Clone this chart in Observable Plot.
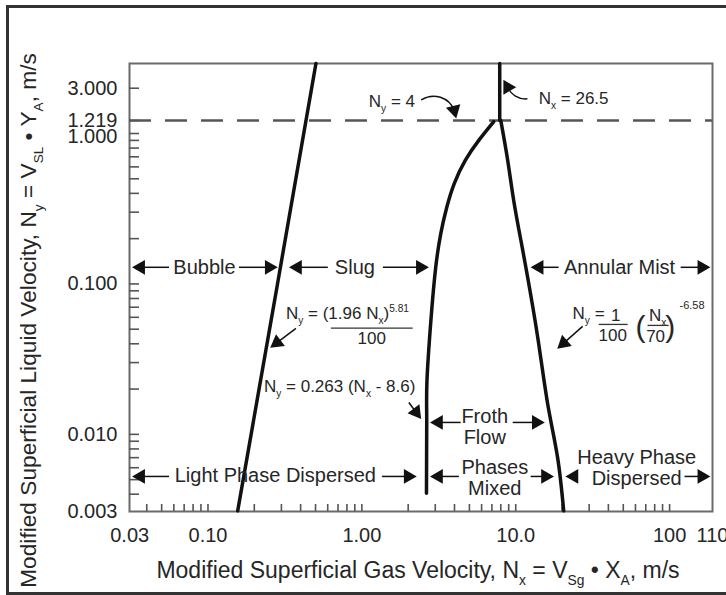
<!DOCTYPE html>
<html>
<head>
<meta charset="utf-8">
<script src="https://cdn.jsdelivr.net/npm/d3@7"></script>
<script src="https://cdn.jsdelivr.net/npm/@observablehq/plot@0.6"></script>
<style>
html, body { margin: 0; padding: 0; background: #fff; overflow: hidden; }
#wrap { position: relative; width: 726px; height: 595px; }
#wrap svg { display: block; position: absolute; left: 0; top: 0; }
#border { position: absolute; left: 6px; top: 5px; width: 740px; height: 584px;
  border-top: 3px solid #333; border-left: 3px solid #333; border-bottom: 3px solid #333; pointer-events: none; }
</style>
</head>
<body>
<div id="wrap"><div id="border"></div></div>
<script>
// ---------- Axes ----------
const xDomain = [0.0309, 190];
const yDomain = [0.00307, 2.92];
const xTickValues = [0.031, 0.1, 1, 10, 100, 190];
const xTickLabels = ["0.03", "0.10", "1.00", "10.0", "100", "110"];
const yTickValues = [0.00308, 0.01, 0.1, 1.219, 2];
const yTickLabels = ["0.003", "0.010", "0.100", "1.219", "3.000"];
const yUnitTick = [1];
const yUnitLabel = "1.000";
const xMinorTicks = [0.04, 0.05, 0.06, 0.07, 0.08, 0.09,
  0.1, 0.2, 0.3, 0.4, 0.5, 0.6, 0.7, 0.8, 0.9,
  1, 2, 3, 4, 5, 6, 7, 8, 9,
  10, 20, 30, 40, 50, 60, 70, 80, 90, 100];
const yMinorTicks = [0.004, 0.005, 0.006, 0.007, 0.008, 0.009,
  0.01, 0.02, 0.03, 0.04, 0.05, 0.06, 0.07, 0.08, 0.09,
  0.1, 0.2, 0.3, 0.4, 0.5, 0.6, 0.7, 0.8, 0.9,
  1, 1.219, 2];
const xTitle = "Modified Superficial Gas Velocity, N_{x} = V_{Sg} \u2022 X_{A}, m/s";
const yTitle = "Modified Superficial Liquid Velocity, N_{y} = V_{SL} \u2022 Y_{A}, m/s";

// ---------- Flow-regime boundaries ----------
const bubbleSlugX = [0.156, 0.283, 0.503];
const bubbleSlugY = [0.0031, 0.1, 2.92];
const slugFrothX = [2.63, 2.64, 2.65, 2.81, 3.02, 3.26, 3.56, 3.99, 4.70, 5.75, 7.2];
const slugFrothY = [0.00406, 0.0124, 0.0229, 0.0572, 0.129, 0.217, 0.322, 0.466, 0.662, 0.90, 1.2];
const frothMistX = [20.5, 18.7, 16.1, 13.9, 11.8, 10.8, 9.70, 8.87, 8.0];
const frothMistY = [0.0031, 0.00703, 0.0161, 0.0441, 0.119, 0.195, 0.359, 0.662, 1.219];
const nxLimitX = [7.87, 7.87];
const nxLimitY = [1.219, 2.92];
const nyLimit = [1.219];

// ---------- Region labels ----------
const regionNames = ["Bubble", "Slug", "Annular Mist", "Froth\nFlow", "Light Phase Dispersed", "Phases\nMixed", "Heavy Phase\nDispersed"];
const regionX = [0.0949, 0.901, 47.3, 6.29, 0.274, 7.31, 61.1];
const regionY = [0.129, 0.129, 0.129, 0.0113, 0.00534, 0.00514, 0.00599];

// ---------- Region range arrows (tail x -> head x on a row) ----------
const arrowTailX = [0.0558, 0.159, 0.601, 1.37, 19.0, 118, 4.39, 9.56, 0.0558, 1.35, 4.27, 12.5, 125];
const arrowHeadX = [0.0365, 0.25, 0.382, 2.40, 14.2, 162, 3.15, 13.6, 0.0365, 2.0, 3.15, 15.6, 162];
const arrowRowY = [0.129, 0.129, 0.129, 0.129, 0.129, 0.129, 0.012, 0.012, 0.00525, 0.00525, 0.00525, 0.00525, 0.00525];
const loneHeadX = [23.9];
const loneHeadY = [0.00525];

// ---------- Pointer arrows to the equations ----------
const pointerX1 = [0.373, 2.02, 27.2];
const pointerY1 = [0.0506, 0.0163, 0.0522];
const pointerX2 = [0.281, 2.25, 20.5];
const pointerY2 = [0.0407, 0.01404, 0.0404];
const pointerAngle = [-127, 143, -131];
const curvedX1 = [2.45, 11.8];
const curvedY1 = [1.68, 1.70];
const curvedX2 = [3.98, 8.86];
const curvedY2 = [1.43, 2.03];
const curvedAngle = [166, -30];
const curvedBend = [50, 35];

// ---------- Equation texts ----------
const eqStartText = ["N_{y} = (1.96 N_{x})^{5.81}", "N_{y} = 0.263 (N_{x} - 8.6)", "N_{y} =", "N_{y} = 4", "N_{x} = 26.5"];
const eqStartX = [0.321, 0.231, 23.4, 1.11, 14.1];
const eqStartY = [0.0637, 0.0208, 0.0637, 1.63, 1.71];
const eqMidText = ["100", "1", "100", "N_{x}", "70"];
const eqMidX = [1.16, 44.6, 42.7, 83.6, 81.1];
const eqMidY = [0.0434, 0.0619, 0.0451, 0.0619, 0.0444];
const parenText = ["(", ")"];
const parenX = [64.8, 101];
const parenY = [0.0514, 0.0514];
const expText = ["-6.58"];
const expX = [116];
const expY = [0.0720];
const barX1 = [0.629, 34.6, 71.9];
const barX2 = [2.14, 53.4, 98.6];
const barY = [0.0508, 0.0538, 0.053];

// ---------- Build ----------
const line = (xs, ys) => xs.map((x, i) => ({x, y: ys[i]}));
const yLab = new Map(yTickValues.map((v, i) => [v, yTickLabels[i]]));
const xLabels = xTickValues.map((v, i) => ({v, t: xTickLabels[i]}));
const regions = regionNames.map((t, i) => ({t, x: regionX[i], y: regionY[i]}));
const segs = arrowTailX.map((x1, i) => ({x1, x2: arrowHeadX[i], y: arrowRowY[i]}));
const heads = [
  ...segs.map(s => ({x: s.x2, y: s.y, a: s.x2 < s.x1 ? -90 : 90})),
  ...loneHeadX.map((x, i) => ({x, y: loneHeadY[i], a: -90})),
  ...pointerX2.map((x, i) => ({x, y: pointerY2[i], a: pointerAngle[i]})),
  ...curvedX2.map((x, i) => ({x, y: curvedY2[i], a: curvedAngle[i]}))
];
const pointers = pointerX1.map((x1, i) => ({x1, y1: pointerY1[i], x2: pointerX2[i], y2: pointerY2[i]}));
const curved = curvedX1.map((x1, i) => ({x1, y1: curvedY1[i], x2: curvedX2[i], y2: curvedY2[i]}));
const eqStart = eqStartText.map((t, i) => ({t, x: eqStartX[i], y: eqStartY[i]}));
const eqMid = eqMidText.map((t, i) => ({t, x: eqMidX[i], y: eqMidY[i]}));
const parens = parenText.map((t, i) => ({t, x: parenX[i], y: parenY[i]}));
const exps = expText.map((t, i) => ({t, x: expX[i], y: expY[i]}));
const bars = barX1.map((x1, i) => ({x1, x2: barX2[i], y: barY[i]}));

const ink = "#111";
const textInk = "#262626";

const chart = Plot.plot({
  width: 726,
  height: 595,
  marginLeft: 129,
  marginRight: 14,
  marginTop: 63,
  marginBottom: 84,
  x: {type: "log", domain: xDomain},
  y: {type: "log", domain: yDomain},
  style: {fontFamily: "'Liberation Sans', Arial, Helvetica, sans-serif", fontSize: "20px", color: textInk, background: "transparent", overflow: "visible"},
  marks: [
    Plot.frame({stroke: "#6a6a6a", strokeWidth: 2}),
    Plot.axisX(xMinorTicks, {anchor: "bottom", tickSize: -7, tickFormat: () => "", stroke: "#555", strokeWidth: 1.6, label: null}),
    Plot.axisY(yMinorTicks, {anchor: "left", tickSize: -10, tickFormat: () => "", stroke: "#555", strokeWidth: 1.6, label: null}),
    Plot.text(xLabels, {x: "v", text: "t", frameAnchor: "bottom", lineAnchor: "top", dy: 16, fontSize: 20, fill: textInk}),
    Plot.axisY(yTickValues, {anchor: "left", tickSize: 0, tickPadding: 12, tickFormat: d => yLab.get(d), label: null, fontSize: 20}),
    Plot.axisY(yUnitTick, {anchor: "left", tickSize: 0, tickPadding: 12, tickFormat: () => yUnitLabel, label: null, fontSize: 20, dy: 3}),
    Plot.ruleY(nyLimit, {stroke: "#555", strokeWidth: 2.5, strokeDasharray: "22,14"}),
    Plot.line(line(bubbleSlugX, bubbleSlugY), {x: "x", y: "y", stroke: ink, strokeWidth: 3.5}),
    Plot.line(line(slugFrothX, slugFrothY), {x: "x", y: "y", stroke: ink, strokeWidth: 3.5, curve: "natural"}),
    Plot.line(line(frothMistX, frothMistY), {x: "x", y: "y", stroke: ink, strokeWidth: 3.5, curve: "natural"}),
    Plot.line(line(nxLimitX, nxLimitY), {x: "x", y: "y", stroke: ink, strokeWidth: 3.5}),
    Plot.link(segs, {x1: "x1", x2: "x2", y1: "y", y2: "y", stroke: ink, strokeWidth: 1.5}),
    Plot.link(pointers, {x1: "x1", y1: "y1", x2: "x2", y2: "y2", stroke: ink, strokeWidth: 1.5}),
    Plot.arrow(curved.slice(0, 1), {x1: "x1", y1: "y1", x2: "x2", y2: "y2", bend: curvedBend[0], headLength: 0, stroke: ink, strokeWidth: 1.5}),
    Plot.arrow(curved.slice(1, 2), {x1: "x1", y1: "y1", x2: "x2", y2: "y2", bend: curvedBend[1], headLength: 0, stroke: ink, strokeWidth: 1.5}),
    Plot.dot(heads, {x: "x", y: "y", rotate: "a", symbol: "triangle", r: 5.5, fill: ink, stroke: null}),
    Plot.text(regions, {x: "x", y: "y", text: "t", fontSize: 20, lineHeight: 1.07, fill: textInk}),
    Plot.text(eqStart, {x: "x", y: "y", text: "t", textAnchor: "start", fontSize: 17, fill: textInk}),
    Plot.text(eqMid, {x: "x", y: "y", text: "t", fontSize: 17, fill: textInk}),
    Plot.text(parens, {x: "x", y: "y", text: "t", fontSize: 30, fill: textInk}),
    Plot.text(exps, {x: "x", y: "y", text: "t", textAnchor: "start", fontSize: 11, fill: textInk}),
    Plot.link(bars, {x1: "x1", x2: "x2", y1: "y", y2: "y", stroke: "#333", strokeWidth: 1.3}),
    Plot.text([xTitle], {frameAnchor: "bottom", textAnchor: "middle", lineAnchor: "middle", dx: -3, dy: 59.5, fontSize: 23, fill: textInk}),
    Plot.text([yTitle], {frameAnchor: "left", textAnchor: "middle", lineAnchor: "middle", rotate: -90, dx: -101, dy: 33, fontSize: 22.7, fill: textInk})
  ]
});

document.getElementById("wrap").prepend(chart);

// Sub/superscript markup -> tspans
function richText(svg) {
  const NS = "http://www.w3.org/2000/svg";
  svg.querySelectorAll("text").forEach(t => {
    const nodes = t.querySelector("tspan") ? Array.from(t.querySelectorAll("tspan")) : [t];
    for (const el of nodes) {
      const s = el.textContent;
      if (!/[_^]\{/.test(s)) continue;
      const fs = parseFloat(getComputedStyle(el).fontSize) || 17;
      el.textContent = "";
      const re = /([_^])\{([^}]*)\}|([^_^]+)/g;
      let m, cur = 0;
      while ((m = re.exec(s))) {
        const ts = document.createElementNS(NS, "tspan");
        let target = 0;
        if (m[3] != null) {
          ts.textContent = m[3];
        } else {
          target = m[1] === "_" ? 0.3 * fs : -0.42 * fs;
          ts.textContent = m[2];
          ts.setAttribute("font-size", (0.6 * fs).toFixed(1));
        }
        const dy = target - cur;
        if (Math.abs(dy) > 0.01) ts.setAttribute("dy", dy.toFixed(2));
        cur = target;
        el.appendChild(ts);
      }
    }
  });
}
richText(chart);
</script>
</body>
</html>
